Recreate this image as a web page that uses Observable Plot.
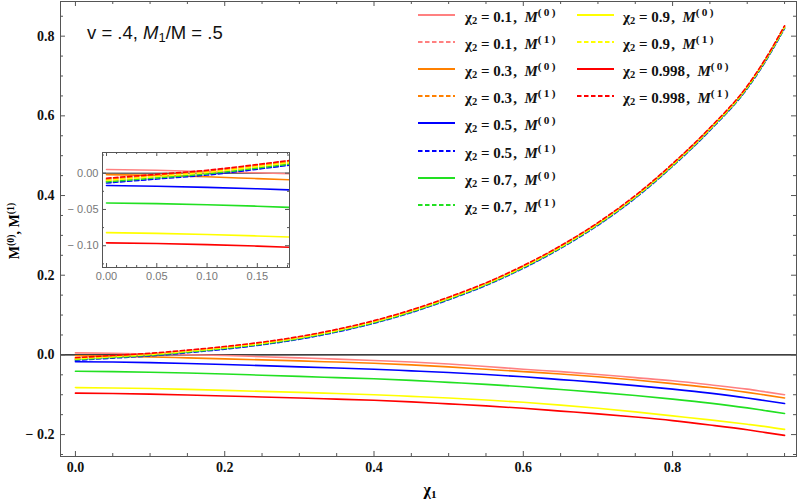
<!DOCTYPE html>
<html><head><meta charset="utf-8">
<script src="https://cdn.jsdelivr.net/npm/d3@7"></script>
<script src="https://cdn.jsdelivr.net/npm/@observablehq/plot@0.6"></script>
<style>
body{margin:0;background:#fff;}
#wrap{position:relative;width:800px;height:499px;overflow:hidden;}
#wrap svg{position:absolute;left:0;top:0;}
.ov{position:absolute;white-space:nowrap;}
#title{left:87px;top:22px;font-family:"Liberation Sans",Arial,sans-serif;font-size:18.5px;color:#111;}
#ylab{left:14px;top:231px;transform:translate(-50%,-50%) rotate(-90deg);font-family:"Liberation Serif",serif;font-weight:bold;font-size:14px;}
#xlab{left:430px;top:481px;transform:translateX(-50%);font-family:"Liberation Serif",serif;font-weight:bold;font-size:16px;}
.leg{position:absolute;font-family:"Liberation Serif",serif;font-weight:bold;font-size:15px;color:#111;line-height:1;}
.leg sup{font-size:0.75em;vertical-align:0.5em;}
sup{font-size:0.7em;vertical-align:0.55em;}
sub{font-size:0.7em;vertical-align:-0.25em;}
</style></head><body>
<div id="wrap"></div>
<script>
// ----- data -----
const chi1 = [0, 0.05, 0.1, 0.15, 0.2, 0.25, 0.3, 0.35, 0.4, 0.45, 0.5, 0.55, 0.6, 0.65, 0.7, 0.75, 0.8, 0.85, 0.9, 0.925, 0.95];
const chi2Labels = ["0.1", "0.3", "0.5", "0.7", "0.9", "0.998"];
const seriesColors = ["#ff8080", "#ff8000", "#0000ff", "#22e022", "#ffff00", "#ff0000"];

// M^(0) (solid)
const M0_01  = [0.005, 0.004, 0.002, 0.0005, -0.0015, -0.0045, -0.0075, -0.0105, -0.014, -0.018, -0.023, -0.029, -0.036, -0.042, -0.049, -0.057, -0.065, -0.075, -0.086, -0.093, -0.100];
const M0_03  = [-0.002, -0.003, -0.005, -0.0075, -0.010, -0.0125, -0.015, -0.018, -0.021, -0.025, -0.030, -0.036, -0.042, -0.048, -0.055, -0.063, -0.072, -0.082, -0.094, -0.101, -0.108];
const M0_05  = [-0.017, -0.018, -0.0195, -0.0215, -0.024, -0.027, -0.030, -0.033, -0.036, -0.040, -0.044, -0.049, -0.055, -0.062, -0.069, -0.077, -0.086, -0.096, -0.108, -0.115, -0.122];
const M0_07  = [-0.041, -0.042, -0.0435, -0.0455, -0.048, -0.051, -0.054, -0.057, -0.060, -0.064, -0.069, -0.074, -0.080, -0.087, -0.094, -0.102, -0.111, -0.121, -0.133, -0.140, -0.147];
const M0_09  = [-0.082, -0.083, -0.0845, -0.0865, -0.089, -0.0915, -0.094, -0.097, -0.100, -0.104, -0.108, -0.113, -0.119, -0.126, -0.134, -0.143, -0.153, -0.163, -0.174, -0.180, -0.187];
const M0_998 = [-0.096, -0.097, -0.0985, -0.1005, -0.103, -0.1055, -0.108, -0.111, -0.114, -0.118, -0.123, -0.128, -0.134, -0.141, -0.148, -0.156, -0.165, -0.176, -0.188, -0.195, -0.202];

// M^(1) (dashed)
const M1_01  = [-0.011, -0.0055, 0.000, 0.008, 0.017, 0.028, 0.042, 0.060, 0.082, 0.109, 0.141, 0.177, 0.220, 0.270, 0.328, 0.396, 0.476, 0.566, 0.671, 0.741, 0.822];
const M1_03  = [-0.0085, -0.003, 0.0025, 0.0105, 0.0195, 0.0305, 0.0445, 0.0625, 0.0845, 0.1115, 0.1435, 0.1795, 0.2225, 0.2725, 0.3305, 0.3985, 0.4785, 0.5685, 0.6735, 0.7435, 0.8245];
const M1_05  = [-0.0135, -0.008, -0.0025, 0.0055, 0.0145, 0.0255, 0.0395, 0.0575, 0.0795, 0.1065, 0.1385, 0.1745, 0.2175, 0.2675, 0.3255, 0.3935, 0.4735, 0.5635, 0.6685, 0.7385, 0.8195];
const M1_07  = [-0.012, -0.0065, -0.001, 0.007, 0.016, 0.027, 0.041, 0.059, 0.081, 0.108, 0.140, 0.176, 0.219, 0.269, 0.327, 0.395, 0.475, 0.565, 0.670, 0.740, 0.821];
const M1_09  = [-0.010, -0.0045, 0.001, 0.009, 0.018, 0.029, 0.043, 0.061, 0.083, 0.110, 0.142, 0.178, 0.221, 0.271, 0.329, 0.397, 0.477, 0.567, 0.672, 0.742, 0.823];
const M1_998 = [-0.007, -0.0015, 0.004, 0.012, 0.021, 0.032, 0.046, 0.064, 0.086, 0.113, 0.145, 0.181, 0.224, 0.274, 0.332, 0.400, 0.480, 0.570, 0.675, 0.745, 0.826];

// ticks
const xMajor = [0, 0.2, 0.4, 0.6, 0.8];
const xMinor = [0.05, 0.1, 0.15, 0.25, 0.3, 0.35, 0.45, 0.5, 0.55, 0.65, 0.7, 0.75, 0.85, 0.9, 0.95];
const yMajor = [-0.2, 0, 0.2, 0.4, 0.6, 0.8];
const yMinor = [-0.25, -0.15, -0.1, -0.05, 0.05, 0.1, 0.15, 0.25, 0.3, 0.35, 0.45, 0.5, 0.55, 0.65, 0.7, 0.75, 0.85];
const insetXMajor = [0, 0.05, 0.1, 0.15];
const insetXMinor = [0.01, 0.02, 0.03, 0.04, 0.06, 0.07, 0.08, 0.09, 0.11, 0.12, 0.13, 0.14, 0.16, 0.17, 0.18];
const insetYMajor = [0, -0.05, -0.1];
const insetYMinor = [0.025, -0.025, -0.075, -0.125];

// ----- build table -----
const M0 = [M0_01, M0_03, M0_05, M0_07, M0_09, M0_998];
const M1 = [M1_01, M1_03, M1_05, M1_07, M1_09, M1_998];
const rows = [];
chi2Labels.forEach((c, i) => {
  chi1.forEach((x, j) => rows.push({x, y: M0[i][j], key: c + "-0"}));
  chi1.forEach((x, j) => rows.push({x, y: M1[i][j], key: c + "-1"}));
});
const keys = [];
chi2Labels.forEach((c, i) => { keys.push({key: c + "-0", color: seriesColors[i], dashed: false}); keys.push({key: c + "-1", color: seriesColors[i], dashed: true}); });

function lineMarks(clip) {
  return keys.map(k => Plot.line(rows.filter(r => r.key === k.key), {
    x: "x", y: "y", stroke: k.color, strokeWidth: 1.6, curve: "monotone-x", clip,
    strokeDasharray: k.dashed ? "4.5,2.5" : null
  }));
}
const fmtSigned = (d, n) => d < 0 ? "\u2212 " + Math.abs(d).toFixed(n) : Math.abs(d).toFixed(n);
const frameCol = "#555";

// inward frame ticks, drawn as short tick marks via insets
function frameTicks(innerW, innerH, xMaj, xMin, yMaj, yMin, majLen, minLen) {
  const st = {stroke: frameCol, strokeWidth: 1};
  return [
    Plot.tickX(xMaj, {x: d => d, insetTop: innerH - majLen, ...st}),
    Plot.tickX(xMin, {x: d => d, insetTop: innerH - minLen, ...st}),
    Plot.tickX(xMaj, {x: d => d, insetBottom: innerH - majLen, ...st}),
    Plot.tickX(xMin, {x: d => d, insetBottom: innerH - minLen, ...st}),
    Plot.tickY(yMaj, {y: d => d, insetRight: innerW - majLen, ...st}),
    Plot.tickY(yMin, {y: d => d, insetRight: innerW - minLen, ...st}),
    Plot.tickY(yMaj, {y: d => d, insetLeft: innerW - majLen, ...st}),
    Plot.tickY(yMin, {y: d => d, insetLeft: innerW - minLen, ...st})
  ];
}

const serif = "Liberation Serif, Times New Roman, serif";
const W = 800, H = 499, mL = 60, mR = 4, mT = 1, mB = 43;
const main = Plot.plot({
  width: W, height: H,
  marginLeft: mL, marginRight: mR, marginTop: mT, marginBottom: mB,
  style: {background: "white"},
  x: {domain: [-0.02, 0.966], label: null},
  y: {domain: [-0.255, 0.887], label: null},
  marks: [
    Plot.ruleY([0], {stroke: "black", strokeWidth: 1.2}),
    ...lineMarks(true),
    Plot.frame({stroke: frameCol}),
    ...frameTicks(W - mL - mR, H - mT - mB, xMajor, xMinor, yMajor, yMinor, 5, 3),
    Plot.axisX({anchor: "bottom", ticks: xMajor, tickSize: 0, tickPadding: 6, label: null,
      tickFormat: d => d.toFixed(1), fontFamily: serif, fontWeight: "bold", fontSize: 14, fill: "#111"}),
    Plot.axisY({anchor: "left", ticks: yMajor, tickSize: 0, tickPadding: 6, label: null,
      tickFormat: d => fmtSigned(d, 1), fontFamily: serif, fontWeight: "bold", fontSize: 14, fill: "#111"})
  ]
});

const iW = 300, iH = 290, iL = 102, iR = 11, iT = 152, iB = 23;
const inset = Plot.plot({
  width: iW, height: iH,
  marginLeft: iL, marginRight: iR, marginTop: iT, marginBottom: iB,
  style: {background: "transparent"},
  x: {domain: [-0.004, 0.182], label: null},
  y: {domain: [-0.130, 0.0285], label: null},
  marks: [
    Plot.frame({fill: "white", stroke: null}),
    Plot.ruleY([0], {stroke: "#222", strokeWidth: 1}),
    ...lineMarks(true),
    Plot.frame({stroke: frameCol}),
    ...frameTicks(iW - iL - iR, iH - iT - iB, insetXMajor, insetXMinor, insetYMajor, insetYMinor, 4, 2),
    Plot.axisX({anchor: "bottom", ticks: insetXMajor, tickSize: 0, tickPadding: 5, label: null,
      tickFormat: d => d.toFixed(2), fontFamily: "Liberation Sans, Arial, sans-serif", fontSize: 11, fill: "#777"}),
    Plot.axisY({anchor: "left", ticks: insetYMajor, tickSize: 0, tickPadding: 4, label: null,
      tickFormat: d => fmtSigned(d, 2), fontFamily: "Liberation Sans, Arial, sans-serif", fontSize: 11, fill: "#777"})
  ]
});

const wrap = document.getElementById("wrap");
wrap.appendChild(main);
wrap.appendChild(inset);

function addDiv(id, html) {
  const d = document.createElement("div");
  d.className = "ov"; d.id = id; d.innerHTML = html; wrap.appendChild(d);
}
addDiv("title", 'v = .4, <i>M</i><sub>1</sub>/M = .5');
addDiv("ylab", 'M<sup>(0)</sup>, M<sup>(1)</sup>');
addDiv("xlab", '\u03c7<sub>1</sub>');

// legend
const legRowY = 15, legStep = 27.1;
keys.forEach((k, idx) => {
  const col = idx < 8 ? 0 : 1;
  const row = idx < 8 ? idx : idx - 8;
  const cy = legRowY + row * legStep;
  const sx = col === 0 ? 418 : 577;
  const tx = col === 0 ? 465 : 623;
  const s = document.createElementNS("http://www.w3.org/2000/svg", "svg");
  s.setAttribute("width", 40); s.setAttribute("height", 6);
  s.style.position = "absolute"; s.style.left = sx + "px"; s.style.top = (cy - 3) + "px";
  s.innerHTML = `<line x1="0" y1="3" x2="37" y2="3" stroke="${k.color}" stroke-width="2" ${k.dashed ? 'stroke-dasharray="4.5,2.5"' : ""}/>`;
  wrap.appendChild(s);
  const t = document.createElement("div");
  t.className = "leg";
  t.style.left = tx + "px"; t.style.top = (cy - 8) + "px";
  const c = k.key.split("-")[0];
  const m = k.key.split("-")[1];
  t.innerHTML = `\u03c7<sub>2</sub> = ${c}&#8202;, &nbsp;<i>M</i><sup>(&#8201;${m}&#8201;)</sup>`;
  wrap.appendChild(t);
});
</script>
</body></html>
